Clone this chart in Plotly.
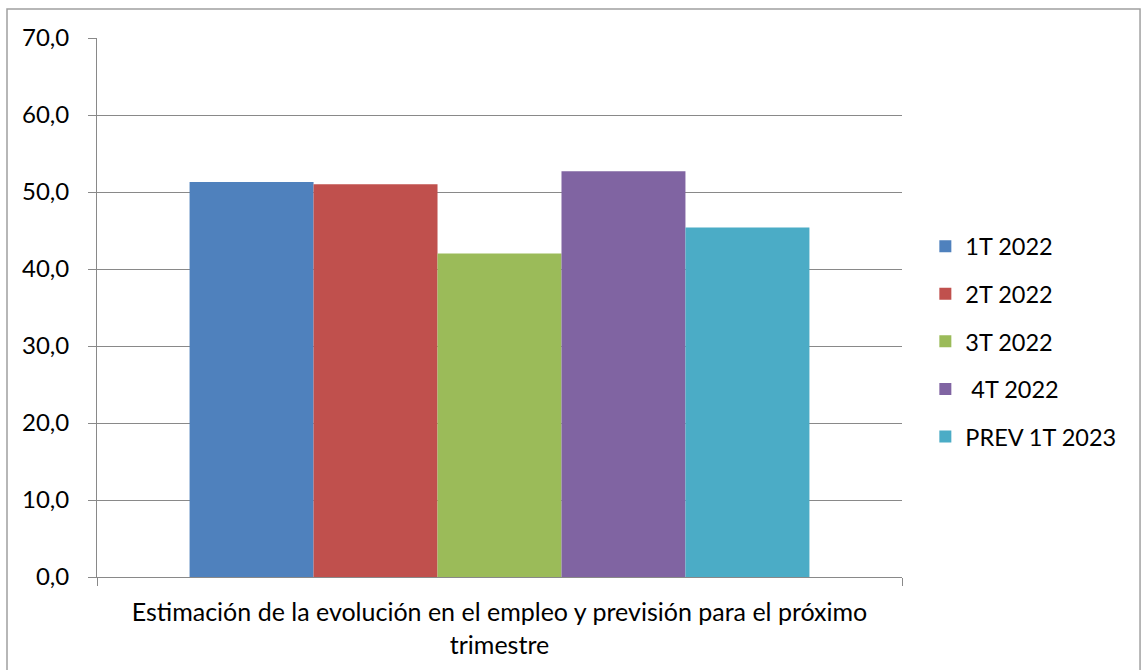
import plotly.graph_objects as go

categories = ["Estimación de la evolución en el empleo y previsión para el próximo<br>trimestre"]
series_names = ["1T 2022", "2T 2022", "3T 2022", " 4T 2022", "PREV 1T 2023"]
series_values = [51.3, 51.0, 42.0, 52.7, 45.4]
series_colors = ["#4F81BD", "#C0504D", "#9BBB59", "#8064A2", "#4BACC6"]
y_ticks = [0, 10, 20, 30, 40, 50, 60, 70]

FONT = "Lato, Carlito, Calibri, sans-serif"
GRAY = "#898989"

fig = go.Figure()
for name, val, col in zip(series_names, series_values, series_colors):
    fig.add_trace(go.Bar(
        x=categories, y=[val], name=name, marker_color=col,
        marker_line_width=0, legendgroup=name,
    ))

fig.update_layout(
    width=1144, height=670,
    margin=dict(l=97, r=242, t=38, b=93),
    paper_bgcolor="white", plot_bgcolor="white",
    separators=",.",
    barmode="group", bargap=0.23, bargroupgap=0,
    font=dict(family=FONT, size=24, color="black"),
    showlegend=True,
    legend=dict(
        x=1.029, xanchor="left", y=0.437, yanchor="middle",
        font=dict(family=FONT, size=23.5, color="black"),
        tracegroupgap=14, traceorder="grouped",
        bgcolor="rgba(0,0,0,0)",
    ),
    xaxis=dict(
        type="category", showline=True, linecolor=GRAY, linewidth=1,
        ticks="outside", tickson="boundaries", ticklen=8, tickcolor=GRAY,
        showgrid=False, tickfont=dict(family=FONT, size=25),
        ticklabelstandoff=13,
    ),
    yaxis=dict(
        range=[0, 70], tickvals=y_ticks, tickformat=".1f",
        showline=True, linecolor=GRAY, linewidth=1,
        ticks="outside", ticklen=8, tickcolor=GRAY,
        showgrid=True, gridcolor=GRAY, gridwidth=1,
        zeroline=False, ticklabelstandoff=14,
        tickfont=dict(family=FONT, size=24),
    ),
    shapes=[dict(
        type="rect", xref="paper", yref="paper",
        x0=-0.1118, x1=1.2957, y0=-0.2, y1=1.0538,
        line=dict(color="#A0A0A0", width=1.5), fillcolor="rgba(0,0,0,0)",
        layer="below",
    )],
)

fig.write_html("out.html")
